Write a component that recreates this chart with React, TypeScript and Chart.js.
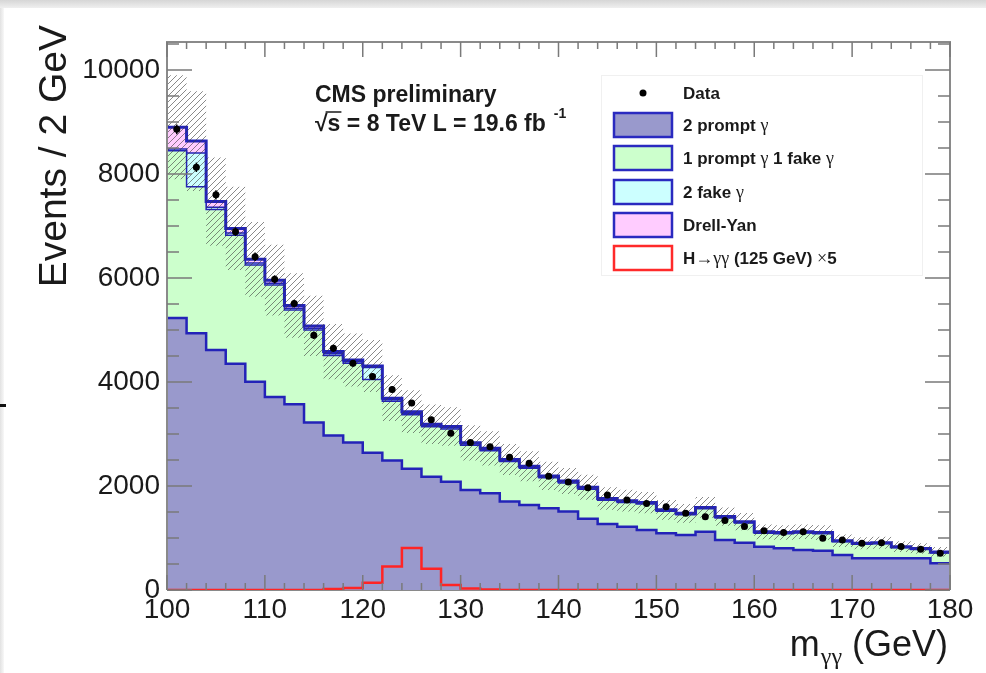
import React, { useEffect, useRef } from "react";
import { Chart, registerables } from "chart.js";

Chart.register(...registerables);

// ---- data (2 GeV bins from 100 to 180 GeV) ----
const binEdges = [100, 102, 104, 106, 108, 110, 112, 114, 116, 118, 120, 122, 124, 126, 128, 130, 132, 134, 136, 138, 140, 142, 144, 146, 148, 150, 152, 154, 156, 158, 160, 162, 164, 166, 168, 170, 172, 174, 176, 178, 180];

const twoPrompt = [5230, 4940, 4615, 4350, 4005, 3710, 3575, 3220, 2970, 2835, 2640, 2490, 2330, 2180, 2080, 1925, 1860, 1700, 1635, 1570, 1510, 1370, 1270, 1218, 1154, 1090, 1058, 1122, 962, 910, 833, 801, 770, 756, 673, 609, 609, 609, 609, 513];
const onePromptOneFake = [3220, 2815, 2705, 2475, 2245, 2155, 1810, 1780, 1540, 1525, 1410, 1140, 1040, 960, 1015, 860, 820, 770, 705, 590, 550, 570, 455, 465, 500, 425, 390, 440, 425, 380, 260, 280, 325, 325, 255, 270, 280, 205, 170, 200];
const twoFake = [30, 650, 40, 40, 40, 35, 35, 35, 35, 30, 230, 30, 30, 25, 25, 25, 25, 20, 20, 20, 20, 20, 20, 20, 15, 15, 15, 15, 15, 15, 15, 15, 15, 15, 12, 12, 12, 12, 12, 12];
const drellYan = [420, 230, 110, 90, 70, 60, 50, 45, 40, 35, 30, 30, 30, 25, 25, 20, 20, 20, 20, 15, 15, 15, 15, 15, 12, 12, 12, 12, 10, 10, 10, 10, 10, 8, 8, 8, 8, 8, 8, 8];
const bkgUncertainty = [1000, 960, 850, 800, 720, 680, 620, 580, 530, 510, 500, 440, 410, 380, 370, 340, 330, 300, 290, 270, 250, 240, 215, 210, 205, 190, 180, 200, 175, 165, 140, 140, 140, 140, 120, 115, 115, 105, 100, 95];
const higgsX5 = [0, 0, 0, 0, 0, 0, 0, 0, 20, 40, 140, 450, 810, 410, 95, 30, 10, 0, 0, 0, 0, 0, 0, 0, 0, 0, 0, 0, 0, 0, 0, 0, 0, 0, 0, 0, 0, 0, 0, 0];
const dataCounts = [8860, 8130, 7600, 6890, 6410, 5975, 5510, 4900, 4650, 4360, 4105, 3855, 3595, 3275, 3015, 2835, 2755, 2555, 2440, 2190, 2075, 1965, 1825, 1730, 1665, 1600, 1475, 1410, 1335, 1220, 1140, 1105, 1120, 995, 960, 900, 910, 835, 785, 705];

const xTickValues = [100, 110, 120, 130, 140, 150, 160, 170, 180];
const yTickValues = [0, 2000, 4000, 6000, 8000, 10000];

const legendLabels = ["Data", "2 prompt γ", "1 prompt γ 1 fake γ", "2 fake γ", "Drell-Yan", "H→γγ (125 GeV) ×5"];
const legendFills = ["", "rgb(153,153,204)", "rgb(204,255,204)", "rgb(204,255,255)", "rgb(255,204,255)", "#ffffff"];
const legendBorders = ["", "#2a2ac0", "#2a2ac0", "#2a2ac0", "#2a2ac0", "#ff2a2a"];

const SANS = '"Liberation Sans", Arial, Helvetica, sans-serif';
const SERIF = '"Liberation Serif", "DejaVu Serif", serif';
const BLUE = "#2323b8";

function steps(vals: number[]) {
  return binEdges.map((x, i) => ({ x, y: vals[Math.min(i, vals.length - 1)] }));
}

function makeHatch(): CanvasPattern | string {
  const c = document.createElement("canvas");
  c.width = 6;
  c.height = 6;
  const g = c.getContext("2d");
  if (!g) return "rgba(80,80,80,0.3)";
  g.strokeStyle = "rgba(60,60,60,0.6)";
  g.lineWidth = 1;
  g.beginPath();
  g.moveTo(0, 6);
  g.lineTo(6, 0);
  g.moveTo(-1, 1);
  g.lineTo(1, -1);
  g.moveTo(5, 7);
  g.lineTo(7, 5);
  g.stroke();
  const p = g.createPattern(c, "repeat");
  return p || "rgba(80,80,80,0.3)";
}

function drawMixed(ctx: CanvasRenderingContext2D, text: string, x: number, y: number, size: number) {
  let cx = x;
  const runs = text.split(/([γ→×]+)/);
  for (const r of runs) {
    if (!r) continue;
    const special = /[γ→×]/.test(r);
    ctx.font = special ? `${size + 1}px ${SERIF}` : `bold ${size}px ${SANS}`;
    ctx.fillText(r, cx, y);
    cx += ctx.measureText(r).width;
  }
}

const framePlugin = {
  id: "rootFrame",
  beforeDatasetsDraw(chart: any) {
    const { ctx, chartArea } = chart;
    ctx.save();
    ctx.strokeStyle = "#8a8a8a";
    ctx.lineWidth = 2;
    ctx.beginPath();
    ctx.moveTo(chartArea.left, chartArea.bottom);
    ctx.lineTo(chartArea.right, chartArea.bottom);
    ctx.stroke();
    ctx.restore();
  },
  afterDatasetsDraw(chart: any) {
    const { ctx, chartArea, scales } = chart;
    const { left, right, top, bottom } = chartArea;
    const xs = scales.x;
    const ys = scales.y;
    ctx.save();
    // data error bars
    ctx.strokeStyle = "#000";
    ctx.lineWidth = 1.5;
    dataCounts.forEach((d, i) => {
      const cx = xs.getPixelForValue((binEdges[i] + binEdges[i + 1]) / 2);
      const e = Math.sqrt(d);
      ctx.beginPath();
      ctx.moveTo(cx, ys.getPixelForValue(d + e));
      ctx.lineTo(cx, ys.getPixelForValue(d - e));
      ctx.stroke();
    });
    // frame
    ctx.strokeStyle = "#8a8a8a";
    ctx.lineWidth = 2;
    ctx.beginPath();
    ctx.moveTo(left, bottom);
    ctx.lineTo(left, top);
    ctx.lineTo(right, top);
    ctx.lineTo(right, bottom);
    ctx.stroke();
    // ticks
    ctx.lineWidth = 1.5;
    ctx.strokeStyle = "#7a7a7a";
    ctx.beginPath();
    for (const x of binEdges) {
      const px = xs.getPixelForValue(x);
      const L = x % 10 === 0 ? 15 : 7;
      ctx.moveTo(px, bottom);
      ctx.lineTo(px, bottom - L);
      ctx.moveTo(px, top);
      ctx.lineTo(px, top + L);
    }
    for (let v = 0; v <= 10500; v += 500) {
      const py = ys.getPixelForValue(v);
      const L = v % 2000 === 0 ? 25 : 12;
      ctx.moveTo(left, py);
      ctx.lineTo(left + L, py);
      ctx.moveTo(right, py);
      ctx.lineTo(right - L, py);
    }
    ctx.stroke();
    ctx.restore();
  },
  afterDraw(chart: any) {
    const { ctx } = chart;
    ctx.save();
    // legend
    ctx.fillStyle = "#ffffff";
    ctx.fillRect(601, 75, 321, 200);
    ctx.strokeStyle = "rgba(0,0,0,0.06)";
    ctx.lineWidth = 1;
    ctx.strokeRect(601.5, 75.5, 321, 200);
    const rows = [93, 125, 158, 192, 225, 258];
    legendLabels.forEach((lab, i) => {
      const ry = rows[i];
      if (i === 0) {
        ctx.fillStyle = "#000";
        ctx.beginPath();
        ctx.arc(643, ry, 3.5, 0, Math.PI * 2);
        ctx.fill();
      } else {
        ctx.fillStyle = legendFills[i];
        ctx.fillRect(614, ry - 12, 58, 24);
        ctx.strokeStyle = legendBorders[i];
        ctx.lineWidth = 2.5;
        ctx.strokeRect(614, ry - 12, 58, 24);
      }
      ctx.fillStyle = "#1a1a1a";
      ctx.textBaseline = "middle";
      ctx.textAlign = "left";
      drawMixed(ctx, lab, 683, ry + 1, 17);
    });
    // CMS labels
    ctx.fillStyle = "#1a1a1a";
    ctx.textBaseline = "alphabetic";
    ctx.textAlign = "left";
    ctx.font = `bold 23px ${SANS}`;
    ctx.fillText("CMS preliminary", 315, 102);
    const line2 = "√s = 8 TeV L = 19.6 fb";
    ctx.fillText(line2, 315, 131);
    const w2 = ctx.measureText(line2).width;
    const wr = ctx.measureText("√").width;
    const ws = ctx.measureText("√s").width;
    ctx.strokeStyle = "#1a1a1a";
    ctx.lineWidth = 1.5;
    ctx.beginPath();
    ctx.moveTo(315 + wr - 2, 112);
    ctx.lineTo(315 + ws + 1, 112);
    ctx.stroke();
    ctx.font = `bold 14px ${SANS}`;
    ctx.fillText("-1", 315 + w2 + 8, 118);
    // y title
    ctx.save();
    ctx.translate(66, 25);
    ctx.rotate(-Math.PI / 2);
    ctx.textAlign = "right";
    ctx.font = `39px ${SANS}`;
    ctx.fillText("Events / 2 GeV", 0, 0);
    ctx.restore();
    // x title
    ctx.textAlign = "left";
    const fMain = `36px ${SANS}`;
    const fSub = `24px ${SERIF}`;
    ctx.font = fMain;
    const wm = ctx.measureText("m").width;
    const wg = ctx.measureText(" (GeV)").width;
    ctx.font = fSub;
    const wsub = ctx.measureText("γγ").width;
    let x0 = 947 - (wm + wsub + wg);
    const base = 656;
    ctx.font = fMain;
    ctx.fillText("m", x0, base);
    x0 += wm;
    ctx.font = fSub;
    ctx.fillText("γγ", x0 + 1, base + 8);
    x0 += wsub + 1;
    ctx.font = fMain;
    ctx.fillText(" (GeV)", x0, base);
    ctx.restore();
  },
};

export default function App() {
  const ref = useRef<HTMLCanvasElement | null>(null);
  useEffect(() => {
    if (!ref.current) return;
    const cum1 = twoPrompt.slice();
    const cum2 = cum1.map((v, i) => v + onePromptOneFake[i]);
    const cum3 = cum2.map((v, i) => v + twoFake[i]);
    const cum4 = cum3.map((v, i) => v + drellYan[i]);
    const errUp = cum4.map((v, i) => v + bkgUncertainty[i]);
    const errLo = cum4.map((v, i) => v - bkgUncertainty[i]);
    const centers = dataCounts.map((d, i) => ({ x: (binEdges[i] + binEdges[i + 1]) / 2, y: d }));
    const hatch = makeHatch();
    const base = { stepped: true, pointRadius: 0, tension: 0 } as any;

    const chart = new Chart(ref.current, {
      type: "line",
      data: {
        datasets: [
          { ...base, label: "Drell-Yan", data: steps(cum4), fill: "origin", backgroundColor: "rgb(255,204,255)", borderColor: BLUE, borderWidth: 1.5, order: 10 },
          { ...base, label: "2 fake", data: steps(cum3), fill: "origin", backgroundColor: "rgb(204,255,255)", borderColor: BLUE, borderWidth: 1.5, order: 9 },
          { ...base, label: "1 prompt 1 fake", data: steps(cum2), fill: "origin", backgroundColor: "rgb(204,255,204)", borderColor: BLUE, borderWidth: 1.5, order: 8 },
          { ...base, label: "2 prompt", data: steps(cum1), fill: "origin", backgroundColor: "rgb(153,153,204)", borderColor: BLUE, borderWidth: 2.5, order: 7 },
          { ...base, label: "total", data: steps(cum4), fill: false, borderColor: BLUE, borderWidth: 3, order: 6 },
          { ...base, label: "unc up", data: steps(errUp), fill: "+1", backgroundColor: hatch, borderWidth: 0, borderColor: "rgba(0,0,0,0)", order: 5 },
          { ...base, label: "unc lo", data: steps(errLo), fill: false, borderWidth: 0, borderColor: "rgba(0,0,0,0)", order: 5 },
          { ...base, label: "Higgs x5", data: steps(higgsX5), fill: false, borderColor: "#ff2424", borderWidth: 2.5, order: 3 },
          { label: "Data", data: centers, showLine: false, pointRadius: 3.5, pointBackgroundColor: "#000", pointBorderWidth: 0, pointStyle: "circle", order: 1 } as any,
        ],
      },
      options: {
        responsive: false,
        animation: false,
        devicePixelRatio: 1,
        layout: { padding: { left: 0, right: 36, top: 42, bottom: 0 } },
        plugins: { legend: { display: false }, tooltip: { enabled: false } },
        scales: {
          x: {
            type: "linear",
            min: 100,
            max: 180,
            grid: { display: false, drawTicks: false },
            border: { display: false },
            afterBuildTicks: (s: any) => {
              s.ticks = xTickValues.map((v) => ({ value: v }));
            },
            afterFit: (s: any) => {
              s.height = 83;
            },
            ticks: { autoSkip: false, maxRotation: 0, padding: 3, color: "#1a1a1a", font: { family: SANS, size: 28 }, callback: (v: any) => String(v) },
          },
          y: {
            type: "linear",
            min: 0,
            max: 10540,
            grid: { display: false, drawTicks: false },
            border: { display: false },
            afterBuildTicks: (s: any) => {
              s.ticks = yTickValues.map((v) => ({ value: v }));
            },
            afterFit: (s: any) => {
              s.width = 167;
            },
            ticks: { padding: 7, color: "#1a1a1a", font: { family: SANS, size: 28 }, callback: (v: any) => String(v) },
          },
        },
      } as any,
      plugins: [framePlugin],
    });
    return () => chart.destroy();
  }, []);

  return (
    <div style={{ position: "fixed", left: 0, top: 0, width: 986, height: 673, background: "#fff", overflow: "hidden" }}>
      <canvas ref={ref} width={986} height={673} style={{ position: "absolute", left: 0, top: 0, width: 986, height: 673 }} />
      <div style={{ position: "absolute", left: 0, top: 0, width: 986, height: 8, background: "linear-gradient(#d6d6d6, #efefef)" }} />
      <div style={{ position: "absolute", left: 0, top: 8, width: 4, height: 665, background: "linear-gradient(90deg, #e2e2e2, #f8f8f8)" }} />
      <div style={{ position: "absolute", left: 0, top: 404, width: 6, height: 3, background: "#111" }} />
    </div>
  );
}
